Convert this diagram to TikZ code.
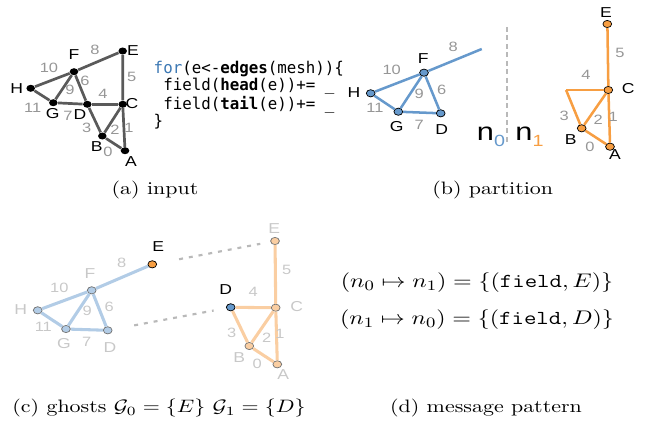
\documentclass[tikz,border=0pt]{standalone}
\usepackage{fontspec}
\usepackage{tikz}
\newfontfamily\labelfont{Liberation Sans}
\newfontfamily\codefont{DejaVu Sans Mono}
\definecolor{edgegray}{RGB}{90,90,90}
\definecolor{numgray}{RGB}{150,150,150}
\definecolor{palegray}{RGB}{200,200,200}
\definecolor{divgray}{RGB}{185,185,185}
\definecolor{partblue}{RGB}{102,153,204}
\definecolor{partorange}{RGB}{247,158,66}
\definecolor{paleblue}{RGB}{178,204,230}
\definecolor{paleorange}{RGB}{250,206,162}
\definecolor{keyblue}{RGB}{60,120,180}

\begin{document}
\begin{tikzpicture}
[   x=0.4557pt, y=-0.556pt, xscale=1.22,
    every node/.style={transform shape},
    vtx/.style={circle,inner sep=0pt,minimum size=3.9pt,fill=black},
    bvtx/.style={circle,inner sep=0pt,minimum size=4pt,draw=black,line width=0.4pt,fill=partblue},
    ovtx/.style={bvtx,fill=partorange},
    pbvtx/.style={bvtx,draw=black!55,fill=paleblue},
    povtx/.style={bvtx,draw=black!55,fill=paleorange},
    lbl/.style={inner sep=0pt,font=\labelfont\fontsize{8}{8}\selectfont},
    plbl/.style={lbl,text=palegray},
    num/.style={inner sep=0pt,text=numgray,font=\labelfont\fontsize{7.5}{7.5}\selectfont},
    pnum/.style={num,text=palegray},
    edgea/.style={line width=1.5pt,draw=edgegray},
    edgeb/.style={line width=1.4pt,draw=partblue},
    edgeo/.style={line width=1.4pt,draw=partorange},
    pedgeb/.style={line width=1.7pt,draw=paleblue},
    pedgeo/.style={line width=1.7pt,draw=paleorange},
    divider/.style={line width=1.4pt,draw=divgray,dash pattern=on 2.8pt off 1.9pt},
    ghostlink/.style={line width=1.2pt,draw=divgray,dash pattern=on 2.2pt off 3.3pt}
]
    \useasboundingbox (0,0) rectangle (646,429);

    % (a) input
    \foreach \n/\x/\y in {A/125/150.7,B/102.3/136,C/122.7/104.3,D/87.3/104.3,E/122.7/51,F/74/71.7,G/53.3/102.7,H/30.7/88.3}
        \node[vtx] (a\n) at (\x,\y) {};
    \foreach \u/\v in {B/A,C/A,B/C,D/B,D/C,C/E,F/D,G/D,F/E,F/G,H/F,H/G}
        \draw[edgea] (a\u) -- (a\v);
    \foreach \n/\x/\y in {F/74/55,E/133/51,H/16.7/89,G/52.7/114,D/80/115,C/132/104,B/96.7/146.7,A/131/161.7}
        \node[lbl] (a\n-l) at (\x,\y) {\n};
    \foreach \n/\x/\y in {0/108/151.7,1/129/127.7,2/115/130,3/86.7/128,4/103/94,5/131.7/77,6/85/81,7/68/116,8/95/50,9/70/90,10/49/68,11/32.7/108}
        \node[num] (a-\n) at (\x,\y) {\n};
    \node[anchor=north west,inner sep=0pt] (code) at (153.3,60.7) {\scalebox{0.8}[1]{\codefont\fontsize{9}{9.57}\selectfont
        \begin{tabular}{@{}l@{}}
        \textcolor{keyblue}{for}(e<-\textbf{edges}(mesh))\{\\
        \ field(\textbf{head}(e))+= \_\\
        \ field(\textbf{tail}(e))+= \_\\
        \}
        \end{tabular}}};
    \node (capa) at (155,190) {(a) input};

    % (b) partition
    \foreach \n/\x/\y in {F/424/72.7,H/370.7/93.3,G/398.3/111.7,D/440.7/113.3}
        \node[bvtx] (b\n) at (\x,\y) {};
    \coordinate (b8end) at (481.7,49);
    \foreach \u/\v in {F/8end,H/F,H/G,F/G,G/D,F/D}
        \draw[edgeb] (b\u) -- (b\v);
    \foreach \n/\x/\y in {E/607.3/24,C/608.3/90,B/581.7/128.3,A/610/146.7}
        \node[ovtx] (b\n) at (\x,\y) {};
    \coordinate (bDg) at (566,90);
    \foreach \u/\v in {C/E,C/Dg,Dg/B,B/C,B/A,C/A}
        \draw[edgeo] (b\u) -- (b\v);
    \foreach \n/\x/\y in {F/423.3/58.3,H/354/92.7,G/396.7/126.7,D/441.7/130,E/606/12.7,C/628.3/88.3,B/570.7/140,A/615/155}
        \node[lbl] (b\n-l) at (\x,\y) {\n};
    \foreach \n/\x/\y in {6/441.7/90,7/419.3/125,8/453.3/46.7,9/419.3/94.3,10/391.7/70,11/375/108.3,0/590/146.7,1/613.3/116.7,2/598.3/120,3/564.3/116,4/586/75,5/620/52.7}
        \node[num] (b-\n) at (\x,\y) {\n};
    \coordinate (divtop) at (506.7,27);
    \coordinate (divbot) at (506.7,145);
    \draw[divider] (divtop) -- (divbot);
    \node[anchor=base west,inner sep=0pt,font=\labelfont\fontsize{14}{14}\selectfont] (n0) at (476.5,140)
        {n\raisebox{-3.7pt}{\fontsize{9}{9}\selectfont\textcolor{partblue}{0}}};
    \node[anchor=base west,inner sep=0pt,font=\labelfont\fontsize{14}{14}\selectfont] (n1) at (515,140)
        {n\raisebox{-3.7pt}{\fontsize{9}{9}\selectfont\textcolor{partorange}{1}}};
    \node (capb) at (492.7,190) {(b) partition};

    % (c) ghosts
    \foreach \n/\x/\y in {F/91.7/290.3,H/37.7/310.3,G/66/329,D/107.7/330.3}
        \node[pbvtx] (c\n) at (\x,\y) {};
    \node[ovtx] (cE) at (152.3,264.3) {};
    \foreach \u/\v in {F/E,H/F,H/G,F/G,G/D,F/D}
        \draw[pedgeb] (c\u) -- (c\v);
    \foreach \n/\x/\y in {E/275/241,C/275.7/307.7,B/249.3/346,A/277.3/364.3}
        \node[povtx] (c\n2) at (\x,\y) {};
    \node[bvtx] (cD2) at (230.7,307.3) {};
    \foreach \u/\v in {C/E,D/C,D/B,B/C,B/A,C/A}
        \draw[pedgeo] (c\u2) -- (c\v2);
    \draw[ghostlink,shorten <=12.5pt,shorten >=5.7pt] (cE) -- (cE2);
    \draw[ghostlink,shorten <=12.3pt,shorten >=7pt] (cD) -- (cD2);
    \node[lbl] (cE-l) at (158.3,246.7) {E};
    \node[lbl] (cD2-l) at (225.7,290) {D};
    \foreach \n/\x/\y in {F/90/273.3,H/20.7/309.3,G/64/344,D/110/347.3}
        \node[plbl] (c\n-l) at (\x,\y) {\n};
    \foreach \n/\x/\y in {E/274.3/228.3,C/296.7/306.7,B/239.3/357.3,A/283.3/375}
        \node[plbl] (c\n2-l) at (\x,\y) {\n};
    \foreach \n/\x/\y in {6/109.3/307.3,7/86.7/342.3,8/121.7/263.3,9/87.3/310.7,10/59.3/287.7,11/43.3/327.3,0/257.3/364,1/280/334.3,2/266.7/337.3,3/231.7/333.3,4/253.3/291.7,5/286.7/270}
        \node[pnum] (c-\n) at (\x,\y) {\n};
    \node (capc) at (159,408) {(c) ghosts $\mathcal{G}_0=\{E\}$ $\mathcal{G}_1=\{D\}$};

    % (d) message pattern
    \node[font=\fontsize{11}{13}\selectfont] (msg0) at (477,283) {$(n_0\mapsto n_1)=\{(\texttt{field},E)\}$};
    \node[font=\fontsize{11}{13}\selectfont] (msg1) at (477,320) {$(n_1\mapsto n_0)=\{(\texttt{field},D)\}$};
    \node (capd) at (486,408) {(d) message pattern};
\end{tikzpicture}
\end{document}
